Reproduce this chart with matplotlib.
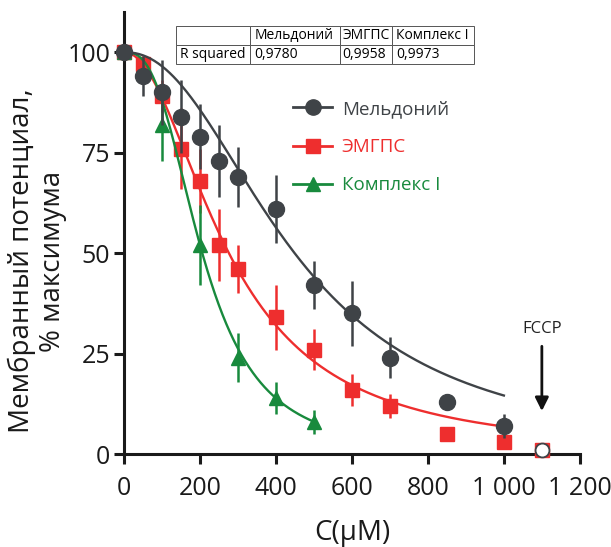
import numpy as np
import matplotlib
matplotlib.use('Agg')
import matplotlib.pyplot as plt
from matplotlib.lines import Line2D

plt.rcParams['font.family'] = ['Open Sans', 'DejaVu Sans']

# concentrations, uM
conc = [0, 50, 100, 150, 200, 250, 300, 400, 500, 600, 700, 850, 1000]
meld = [100, 94, 90, 84, 79, 73, 69, 61, 42, 35, 24, 13, 7]
meld_err = [0, 5, 8, 9, 8, 9, 7.5, 8.5, 6, 8, 5, 0, 3]
emgps = [100, 97, 89, 76, 68, 52, 46, 34, 26, 16, 12, 5, 3]
emgps_err = [0, 2, 4, 10, 8, 9, 6, 8, 5, 4, 3, 1, 1]
conc_c1 = [0, 100, 200, 300, 400, 500]
compl = [100, 82, 52, 24, 14, 8]
compl_err = [0, 9, 10, 6, 4, 3]

# fitted curves: (IC50, Hill slope, last concentration)
fit_meld = (449, 2.21, 1000)
fit_emgps = (276, 2.03, 1000)
fit_compl = (206, 2.75, 500)

fccp_x, fccp_y = 1100, 1

names = ['Мельдоний', 'ЭМГПС', 'Комплекс I']
r2 = ['0,9780', '0,9958', '0,9973']

grey = '#3f4347'
red = '#ee2e2e'
green = '#188a3d'


def hill(p):
    ic50, n, xmax = p
    xs = np.linspace(0, xmax, 300)
    return xs, 100 / (1 + (xs / ic50) ** n)


fig = plt.figure(figsize=(6.11, 5.47), dpi=100)
ax = fig.add_axes([0.203, 0.170, 0.746, 0.808])

# red series
xs, ys = hill(fit_emgps)
ax.plot(xs, ys, color=red, lw=1.7, zorder=2)
ax.errorbar(conc, emgps, yerr=emgps_err, fmt='none', ecolor=red, elinewidth=1.8, capsize=0, zorder=2)
ax.plot(conc, emgps, 's', color=red, ms=10.5, zorder=3, clip_on=False)
ax.plot([fccp_x], [fccp_y], 's', color=red, ms=10.5, zorder=3, clip_on=False)

# green series
xs, ys = hill(fit_compl)
ax.plot(xs, ys, color=green, lw=1.7, zorder=4)
ax.errorbar(conc_c1, compl, yerr=compl_err, fmt='none', ecolor=green, elinewidth=1.8, capsize=0, zorder=4)
ax.plot(conc_c1, compl, '^', color=green, ms=10.5, zorder=5, clip_on=False)

# grey series
xs, ys = hill(fit_meld)
ax.plot(xs, ys, color=grey, lw=1.7, zorder=6)
ax.errorbar(conc, meld, yerr=meld_err, fmt='none', ecolor=grey, elinewidth=1.8, capsize=0, zorder=6)
ax.plot(conc, meld, 'o', color=grey, ms=11.5, zorder=7, clip_on=False)

# FCCP
ax.plot([fccp_x], [fccp_y], 'o', mfc='white', mec=grey, mew=1.3, ms=10, zorder=8, clip_on=False)
ax.annotate('', xy=(fccp_x, 10), xytext=(fccp_x, 27.5),
            arrowprops=dict(arrowstyle='-|>', color='#111111', lw=2, mutation_scale=20))
ax.text(fccp_x, 29, 'FCCP', ha='center', va='bottom', fontsize=12, color='#222222')

ax.set_xlim(0, 1200)
ax.set_ylim(0, 110)
ax.set_xticks([0, 200, 400, 600, 800, 1000, 1200])
ax.set_xticklabels(['0', '200', '400', '600', '800', '1 000', '1 200'])
ax.set_yticks([0, 25, 50, 75, 100])
for s in ['top', 'right']:
    ax.spines[s].set_visible(False)
for s in ['left', 'bottom']:
    ax.spines[s].set_linewidth(2.2)
    ax.spines[s].set_color('#1a1a1a')
ax.tick_params(width=2.2, length=7, labelsize=18, color='#1a1a1a', labelcolor='#1a1a1a')
ax.tick_params(axis='y', pad=3)
ax.tick_params(axis='x', pad=9)
ax.set_xlabel('C(µM)', fontsize=20, color='#1a1a1a', labelpad=13)
ax.set_ylabel('Мембранный потенциал,\n% максимума', fontsize=20, color='#1a1a1a',
              linespacing=1.15)
ax.yaxis.set_label_coords(-0.125, 48 / 110)

# legend
handles = [Line2D([], [], color=grey, marker='o', ms=11, lw=2),
           Line2D([], [], color=red, marker='s', ms=10, lw=2),
           Line2D([], [], color=green, marker='^', ms=10, lw=2)]
leg = ax.legend(handles, names, loc='upper left', bbox_to_anchor=(293 / 611, 1 - 100 / 547),
                bbox_transform=fig.transFigure, frameon=False, fontsize=13.5,
                handlelength=2.1, handletextpad=0.5, labelspacing=1.07,
                borderpad=0, borderaxespad=0, labelcolor='linecolor')

# R squared table
tab = ax.table(cellText=[[''] + names, ['R squared'] + r2], cellLoc='left',
               colWidths=[74, 90, 52, 82], bbox=[0.114, 0.882, 0.654, 0.086])
tab.auto_set_font_size(False)
tab.set_fontsize(10)
for cell in tab.get_celld().values():
    cell.set_linewidth(0.7)
    cell.set_edgecolor('#555555')
    cell.PAD = 0.05

fig.savefig('out.png', dpi=100)
